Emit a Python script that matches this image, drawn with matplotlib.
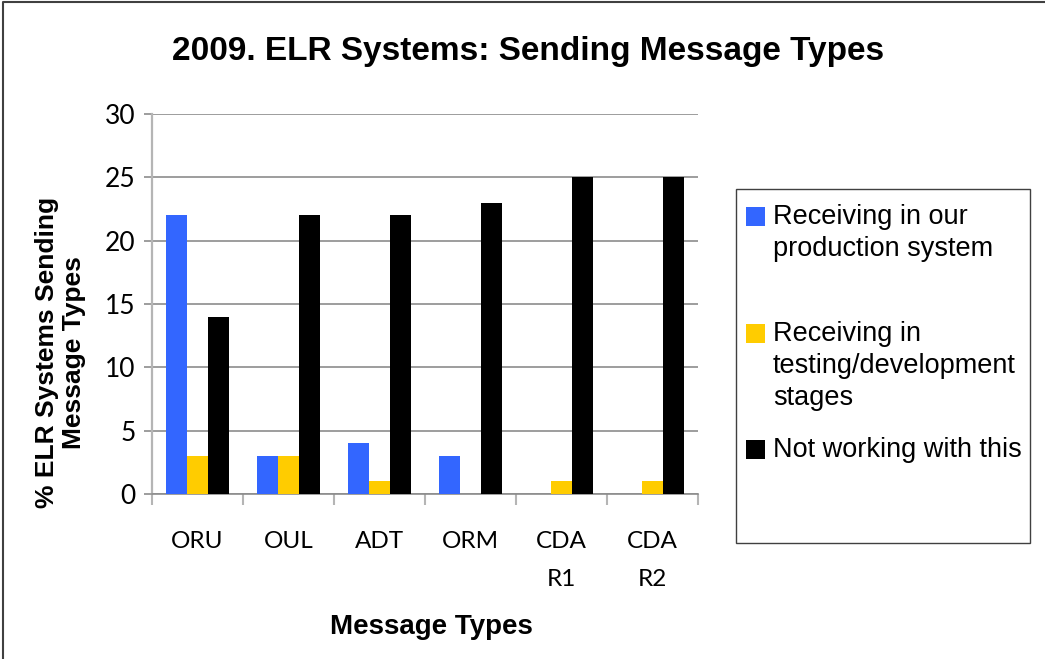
import numpy as np
import matplotlib.pyplot as plt
from matplotlib.patches import Rectangle
from matplotlib.lines import Line2D

categorias = ["ORU", "OUL", "ADT", "ORM", "CDA\nR1", "CDA\nR2"]
produccion = [22, 3, 4, 3, 0, 0]
pruebas = [3, 3, 1, 0, 1, 1]
no_trabaja = [14, 22, 22, 23, 25, 25]

series = [produccion, pruebas, no_trabaja]
etiquetas = ["Receiving in our\nproduction system",
	"Receiving in\ntesting/development\nstages",
	"Not working with this"]
colores = ["#3366FF", "#FFCC00", "#000000"]

fig = plt.figure(figsize=(10.45, 6.59), dpi=100)
ax = fig.add_axes([0.1455, 0.2504, 0.5225, 0.5766])

x = np.arange(len(categorias))
ancho = 0.23

for i, valores in enumerate(series):
	ax.bar(x + (i - 1) * ancho, valores, width=ancho, color=colores[i], zorder=3)

ax.set_xlim(-0.5, len(categorias) - 0.5)
ax.set_ylim(0, 30)
ax.set_yticks(range(0, 31, 5))
ax.yaxis.grid(True, color="#8c8c8c", linewidth=1.2, zorder=0)

for s in ["top", "right"]:
	ax.spines[s].set_visible(False)
ax.spines["left"].set_color("#b5b5b5")
ax.spines["left"].set_linewidth(1.6)
ax.spines["bottom"].set_color("#8c8c8c")
ax.spines["bottom"].set_linewidth(1.2)

ax.set_xticks(x)
ax.set_xticklabels(categorias, family="Lato", fontsize=17.5, linespacing=1.95, va="top")
ax.set_xticks(np.arange(-0.5, len(categorias), 1), minor=True)
ax.tick_params(axis="x", which="major", length=0, pad=27)
ax.tick_params(axis="x", which="minor", length=8, color="#b5b5b5", width=1.5)
ax.tick_params(axis="y", length=6, color="#8c8c8c", width=1.2, pad=6)
for t in ax.get_yticklabels():
	t.set_family("Lato")
	t.set_fontsize(19)

fig.text(0.505, 0.922, "2009. ELR Systems: Sending Message Types",
	family="Liberation Sans", weight="bold", fontsize=24, ha="center", va="center")
fig.text(0.058, 0.465, "% ELR Systems Sending\nMessage Types",
	family="Liberation Sans", weight="bold", fontsize=19, ha="center", va="center",
	rotation=90, linespacing=1.15)
fig.text(0.413, 0.049, "Message Types",
	family="Liberation Sans", weight="bold", fontsize=20, ha="center", va="center")

# leyenda a mano
W, H = 1045.0, 659.0
fig.patches.append(Rectangle((736 / W, 1 - 543 / H), 294 / W, 354 / H,
	transform=fig.transFigure, fill=False, edgecolor="#404040", linewidth=1))
ys = [207, 324, 440]
for i in range(3):
	fig.patches.append(Rectangle((746 / W, 1 - (ys[i] + 19) / H), 19 / W, 19 / H,
		transform=fig.transFigure, facecolor=colores[i], edgecolor="none"))
	fig.text(773 / W, 1 - (ys[i] - 3) / H, etiquetas[i], family="Liberation Sans",
		fontsize=19.5, ha="left", va="top", linespacing=1.3)

# borde exterior
fig.lines.append(Line2D([3 / W, 3 / W, 1.0], [0.0, 1 - 2 / H, 1 - 2 / H],
	transform=fig.transFigure, color="#404040", linewidth=1.5))

fig.savefig("out.png", dpi=100)
